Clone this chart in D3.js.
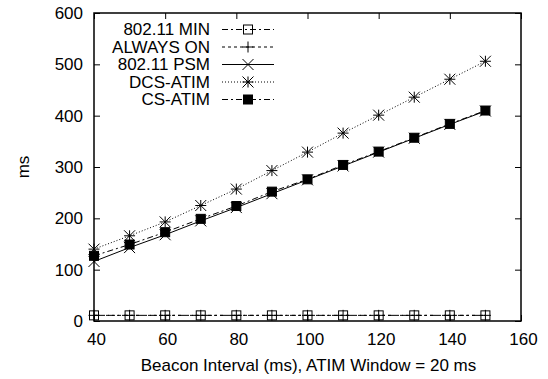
<!DOCTYPE html>
<html>
<head>
<meta charset="utf-8">
<script src="https://cdn.jsdelivr.net/npm/d3@7"></script>
<style>
  body { margin: 0; background: #fff; }
  text { font-family: "Liberation Sans", Arial, sans-serif; fill: #000; }
</style>
</head>
<body>
<div class="chart"></div>
<script>
// data
const beacon = [40, 50, 60, 70, 80, 90, 100, 110, 120, 130, 140, 150];
const min80211 = [11, 11, 11, 11, 11, 11, 11, 11, 11, 11, 11, 11];
const alwaysOn = [11, 11, 11, 11, 11, 11, 11, 11, 11, 11, 11, 11];
const psm80211 = [116, 143, 168, 195, 221, 248, 275, 302, 329, 356, 383, 409];
const dcsAtim = [140, 166, 193, 225, 257, 293, 329, 366, 401, 436, 471, 506];
const csAtim = [127, 149, 173, 199, 224, 252, 276, 304, 330, 357, 384, 410];
const xTicks = [40, 60, 80, 100, 120, 140, 160];
const yTicks = [0, 100, 200, 300, 400, 500, 600];

const series = [
  {name: '802.11 MIN', values: min80211, dash: '6,3,2,3', mark: 'box'},
  {name: 'ALWAYS ON', values: alwaysOn, dash: '3,3', mark: 'plus'},
  {name: '802.11 PSM', values: psm80211, dash: null, mark: 'cross'},
  {name: 'DCS-ATIM', values: dcsAtim, dash: '1,2', mark: 'star'},
  {name: 'CS-ATIM', values: csAtim, dash: '6,3,2,3', mark: 'fbox'}
];

const W = 548, H = 379;
const margin = {top: 13, left: 94, right: 27, bottom: 58};
const width = W - margin.left - margin.right;
const height = H - margin.top - margin.bottom;
const fs = 17;

const svg = d3.select('.chart')
  .append('svg')
  .attr('width', W)
  .attr('height', H);

const g = svg.append('g')
  .attr('transform', `translate(${margin.left},${margin.top})`);

const x = d3.scaleLinear().domain([40, 160]).range([0, width]);
const y = d3.scaleLinear().domain([0, 600]).range([height, 0]);

// inner ticks on all sides, like gnuplot
const tl = 6;
g.append('g').attr('class', 'x-axis')
  .attr('transform', `translate(0,${height})`)
  .call(d3.axisBottom(x).tickValues(xTicks).tickSize(-tl).tickPadding(12))
  .call(a => a.select('.domain').remove())
  .call(a => a.selectAll('text').attr('font-size', fs).attr('dx', 2));
g.append('g')
  .call(d3.axisTop(x).tickValues(xTicks).tickSize(-tl).tickFormat(''))
  .call(a => a.select('.domain').remove());
g.append('g').attr('class', 'y-axis')
  .call(d3.axisLeft(y).tickValues(yTicks).tickSize(-tl).tickPadding(11))
  .call(a => a.select('.domain').remove())
  .call(a => a.selectAll('text').attr('font-size', fs));
g.append('g')
  .attr('transform', `translate(${width},0)`)
  .call(d3.axisRight(y).tickValues(yTicks).tickSize(-tl).tickFormat(''))
  .call(a => a.select('.domain').remove());
g.selectAll('.tick line').attr('stroke', '#000');

g.append('rect')
  .attr('width', width).attr('height', height)
  .attr('fill', 'none').attr('stroke', '#000').attr('stroke-width', 1.5);

// axis titles
svg.append('text')
  .attr('x', margin.left + width / 2 + 1)
  .attr('y', 371)
  .attr('text-anchor', 'middle')
  .attr('font-size', fs)
  .text('Beacon Interval (ms), ATIM Window = 20 ms');
svg.append('text')
  .attr('transform', `translate(29,${margin.top + height / 2}) rotate(-90)`)
  .attr('text-anchor', 'middle')
  .attr('font-size', fs)
  .text('ms');

function marker(sel, type) {
  const s = 4.5;
  if (type === 'box' || type === 'fbox') {
    sel.append('rect').attr('x', -s).attr('y', -s).attr('width', 2 * s).attr('height', 2 * s)
      .attr('fill', type === 'fbox' ? '#000' : 'none').attr('stroke', '#000');
  }
  const p = [];
  if (type === 'plus' || type === 'star') p.push(`M${-s - 1},0H${s + 1}M0,${-s - 1}V${s + 1}`);
  if (type === 'cross' || type === 'star') p.push(`M${-s - 1},${-s - 1}L${s + 1},${s + 1}M${-s - 1},${s + 1}L${s + 1},${-s - 1}`);
  if (p.length) sel.append('path').attr('d', p.join('')).attr('stroke', '#000').attr('fill', 'none');
}

const line = d3.line().x(d => x(d[0])).y(d => y(d[1]));

series.forEach(s => {
  const pts = beacon.map((b, i) => [b, s.values[i]]);
  g.append('path')
    .datum(pts)
    .attr('d', line)
    .attr('fill', 'none')
    .attr('stroke', '#000')
    .attr('stroke-width', 1)
    .attr('stroke-dasharray', s.dash);
  g.append('g').selectAll('g')
    .data(pts)
    .join('g')
    .attr('transform', d => `translate(${x(d[0])},${y(d[1])})`)
    .each(function() { marker(d3.select(this), s.mark); });
});

// legend
const leg = svg.append('g');
series.forEach((s, i) => {
  const ly = 29.5 + i * 17.5;
  leg.append('text')
    .attr('x', 210).attr('y', ly).attr('dy', '0.35em')
    .attr('text-anchor', 'end')
    .attr('font-size', fs)
    .text(s.name);
  leg.append('line')
    .attr('x1', 222).attr('x2', 274).attr('y1', ly).attr('y2', ly)
    .attr('stroke', '#000').attr('stroke-dasharray', s.dash);
  leg.append('g').attr('transform', `translate(248,${ly})`).call(marker, s.mark);
});
</script>
</body>
</html>
